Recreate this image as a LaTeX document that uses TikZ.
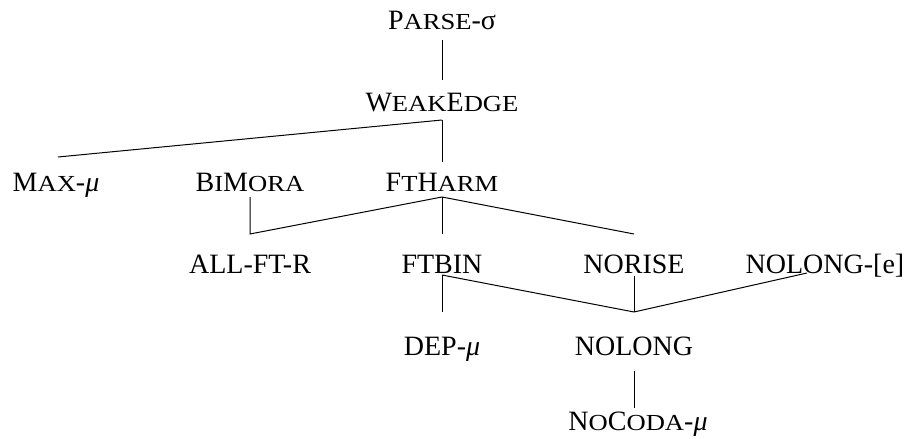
\documentclass[tikz,border=0pt]{standalone}
\usepackage{fontspec}
\usepackage{graphicx}
\setmainfont{Liberation Serif}
\usetikzlibrary{calc}
\newcommand\smc[1]{\scalebox{0.95}[0.82]{#1}}
\tikzset{
  con/.style={draw, line width=0.5pt},
  lab/.style={anchor=base, inner sep=0pt, font=\fontsize{14pt}{16pt}\selectfont}
}
\begin{document}
\begin{tikzpicture}[x=0.5pt,y=-0.5pt]
\useasboundingbox (0,0) rectangle (906,439);
% nodes
\node[lab] (P)   at (442,30)  {P\smc{ARSE}-σ};
\node[lab] (W)   at (442,111) {W\smc{EAK}E\smc{DGE}};
\node[lab] (Mx)  at (56,191)  {M\smc{AX}-\textit{μ}};
\node[lab] (Bi)  at (250,191) {B\smc{I}M\smc{ORA}};
\node[lab] (Fh)  at (442,191) {F\smc{T}H\smc{ARM}};
\node[lab] (All) at (250,273) {ALL-FT-R};
\node[lab] (Fb)  at (442,273) {FTBIN};
\node[lab] (Nr)  at (634,273) {NORISE};
\node[lab] (Nle) at (825,273) {NOLONG-[e]};
\node[lab] (Dep) at (442,355) {DEP-\textit{μ}};
\node[lab] (Nl)  at (634,355) {NOLONG};
\node[lab] (Nc)  at (638,430) {N\smc{O}C\smc{ODA}-\textit{μ}};
% junctions
\coordinate (jW) at ($(W.base)+(0,9)$);
\coordinate (jF) at ($(Fh.base)+(0,6)$);
\coordinate (jA) at ($(All.base)+(0,-39)$);
\coordinate (jB) at ($(Fb.base)+(0,2)$);
\coordinate (jN) at ($(Nl.base)+(0,-43)$);
% connectors
\draw[con] ($(P.base)+(0,10)$) -- ($(W.base)+(0,-31)$);
\draw[con] (jW) -- ($(Mx.base)+(2,-34)$);
\draw[con] (jW) -- ($(Fh.base)+(0,-29)$);
\draw[con] ($(Bi.base)+(0,6)$) -- (jA) -- (jF);
\draw[con] (jF) -- ($(Fb.base)+(0,-39)$);
\draw[con] (jF) -- ($(Nr.base)+(0,-39)$);
\draw[con] (jB) -- ($(Dep.base)+(0,-43)$);
\draw[con] (jB) -- (jN);
\draw[con] ($(Nr.base)+(0,3)$) -- (jN);
\draw[con] ($(Nle.base)+(-18,0)$) -- (jN);
\draw[con] ($(Nl.base)+(0,16)$) -- ($(Nc.base)+(-4,-22)$);
\end{tikzpicture}
\end{document}
